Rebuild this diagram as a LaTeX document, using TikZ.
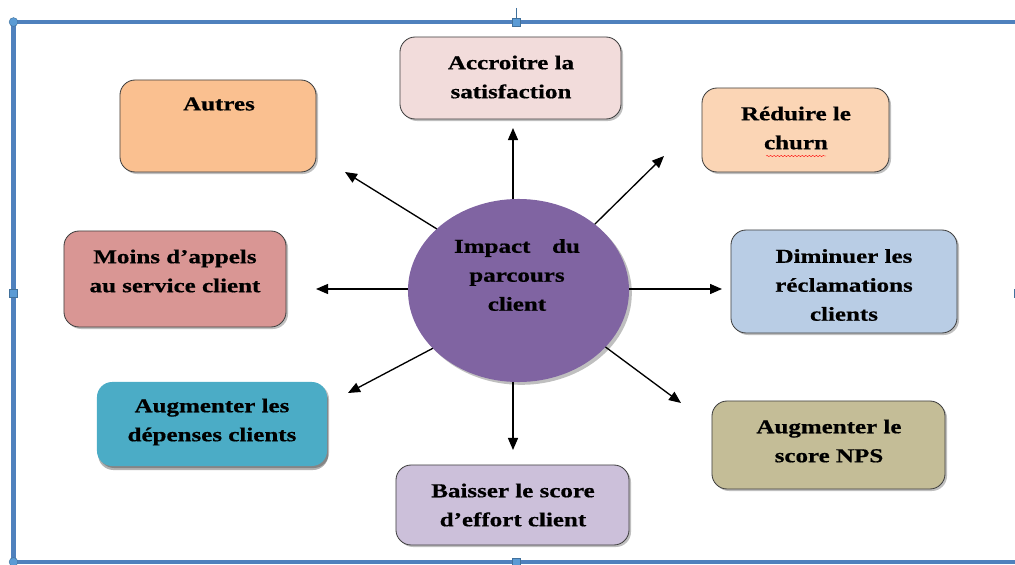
\documentclass[tikz,border=0pt]{standalone}
\usepackage{fontspec}
\setmainfont{Liberation Serif}[FakeStretch=1.27, BoldFeatures={FakeBold=0.6}]
\usetikzlibrary{arrows.meta,shadows,decorations.pathmorphing,shapes.geometric}
\definecolor{frameblue}{RGB}{79,129,189}
\definecolor{handlefill}{RGB}{91,155,213}
\definecolor{handledraw}{RGB}{65,113,156}
\definecolor{boxline}{RGB}{64,64,64}
\definecolor{csat}{RGB}{242,220,219}
\definecolor{cautres}{RGB}{250,192,144}
\definecolor{cchurn}{RGB}{251,213,181}
\definecolor{cappels}{RGB}{217,150,148}
\definecolor{creclam}{RGB}{185,205,229}
\definecolor{cdep}{RGB}{75,172,198}
\definecolor{cnps}{RGB}{196,189,151}
\definecolor{ceffort}{RGB}{204,192,218}
\definecolor{cellipse}{RGB}{128,100,162}
\tikzset{
  box/.style={draw=boxline, line width=0.6pt, rounded corners=0.38cm, inner sep=0pt,
    drop shadow={shadow xshift=0.05cm, shadow yshift=-0.05cm, fill=black, opacity=0.25}},
  lbl/.style={font=\fontsize{14}{20.6}\selectfont\bfseries, align=center, inner sep=0pt},
  arr/.style={line width=0.95pt, -{Triangle[length=0.3cm,width=0.25cm]}},
  handle/.style={fill=handlefill, draw=handledraw, line width=0.3pt}
}
\begin{document}
\begin{tikzpicture}[x=0.025cm, y=-0.025cm]
\useasboundingbox (0,0) rectangle (1015,565);
\begin{scope}
\clip (0,0) rectangle (1015,565);
% frame
\draw[frameblue, line width=0.115cm] (13.5,22) rectangle (1018,562);
\draw[handledraw, line width=0.4pt] (516,8) -- (516,22);
\node[handle, minimum size=0.2cm, inner sep=0pt] (hT) at (516,22) {};
\node[handle, minimum size=0.2cm, inner sep=0pt] (hB) at (516,562) {};
\node[handle, minimum size=0.2cm, inner sep=0pt] (hL) at (13.5,293) {};
\node[handle, minimum size=0.2cm, inner sep=0pt] (hR) at (1018,293) {};
\node[handle, circle, minimum size=0.22cm, inner sep=0pt] (hTL) at (13.5,22) {};
\node[handle, circle, minimum size=0.22cm, inner sep=0pt] (hBL) at (13.5,562) {};
\end{scope}

% boxes
\node[box, fill=csat, minimum width=5.525cm, minimum height=2.05cm] (sat) at (510.5,78) {};
\node[box, fill=cautres, minimum width=4.9cm, minimum height=2.3cm] (autres) at (218,126) {};
\node[box, fill=cchurn, minimum width=4.675cm, minimum height=2.1cm] (churn) at (795.5,130) {};
\node[box, fill=cappels, minimum width=5.55cm, minimum height=2.4cm] (appels) at (175,279) {};
\node[box, fill=creclam, minimum width=5.65cm, minimum height=2.575cm] (reclam) at (844,281.5) {};
\node[box, draw=none, fill=cdep, minimum width=5.75cm, minimum height=2.1cm,
  drop shadow={shadow xshift=0.03cm, shadow yshift=-0.1cm, fill=black, opacity=0.3}] (dep) at (212,424) {};
\node[box, fill=cnps, minimum width=5.825cm, minimum height=2.2cm] (nps) at (828.5,445) {};
\node[box, fill=ceffort, minimum width=5.825cm, minimum height=2.0cm] (effort) at (512.5,505) {};
\node[ellipse, fill=cellipse, minimum width=5.525cm, minimum height=4.575cm, inner sep=0pt, outer sep=0pt,
  drop shadow={shadow xshift=0.07cm, shadow yshift=-0.07cm, fill=black, opacity=0.25}] (c) at (518.5,290.5) {};

% texts
\node[lbl] (tsat) at (511,77) {Accroitre la\\satisfaction};
\node[lbl] (tautres) at (219,104) {Autres};
\node[lbl] (tchurn) at (796,128) {Réduire le\\churn};
\node[lbl] (tappels) at (175,271) {Moins d’appels\\au service client};
\node[lbl] (treclam) at (844,285) {Diminuer les\\réclamations\\clients};
\node[lbl] (tdep) at (212,422) {Augmenter les\\dépenses clients};
\node[lbl] (tnps) at (829,441) {Augmenter le\\score NPS};
\node[lbl] (teffort) at (513,505) {Baisser le score\\d’effort client};
\node[lbl] (tc) at (517,275) {Impact\hspace*{1.1em}du\\parcours\\client};

% spell-check underline
\coordinate (wA) at (766,156);
\coordinate (wB) at (826,156);
\draw[red, line width=0.3pt, decorate, decoration={snake, amplitude=0.4pt, segment length=2.5pt}] (wA) -- (wB);

% arrow end points
\coordinate (eN) at (513,128);
\coordinate (eNE) at (664,156);
\coordinate (eE) at (722,289);
\coordinate (eSE) at (681,403);
\coordinate (eS) at (513,450);
\coordinate (eSW) at (348,393);
\coordinate (eW) at (316,289);
\coordinate (eNW) at (345,172);

\draw[arr] (c.north -| eN) -- (eN);
\draw[arr] (c.41.3) -- (eNE);
\draw[arr] (c.east |- eE) -- (eE);
\draw[arr] (c.-33.8) -- (eSE);
\draw[arr] (c.south -| eS) -- (eS);
\draw[arr] (c.214.4) -- (eSW);
\draw[arr] (c.west |- eW) -- (eW);
\draw[arr] (c.143.5) -- (eNW);
\end{tikzpicture}
\end{document}
